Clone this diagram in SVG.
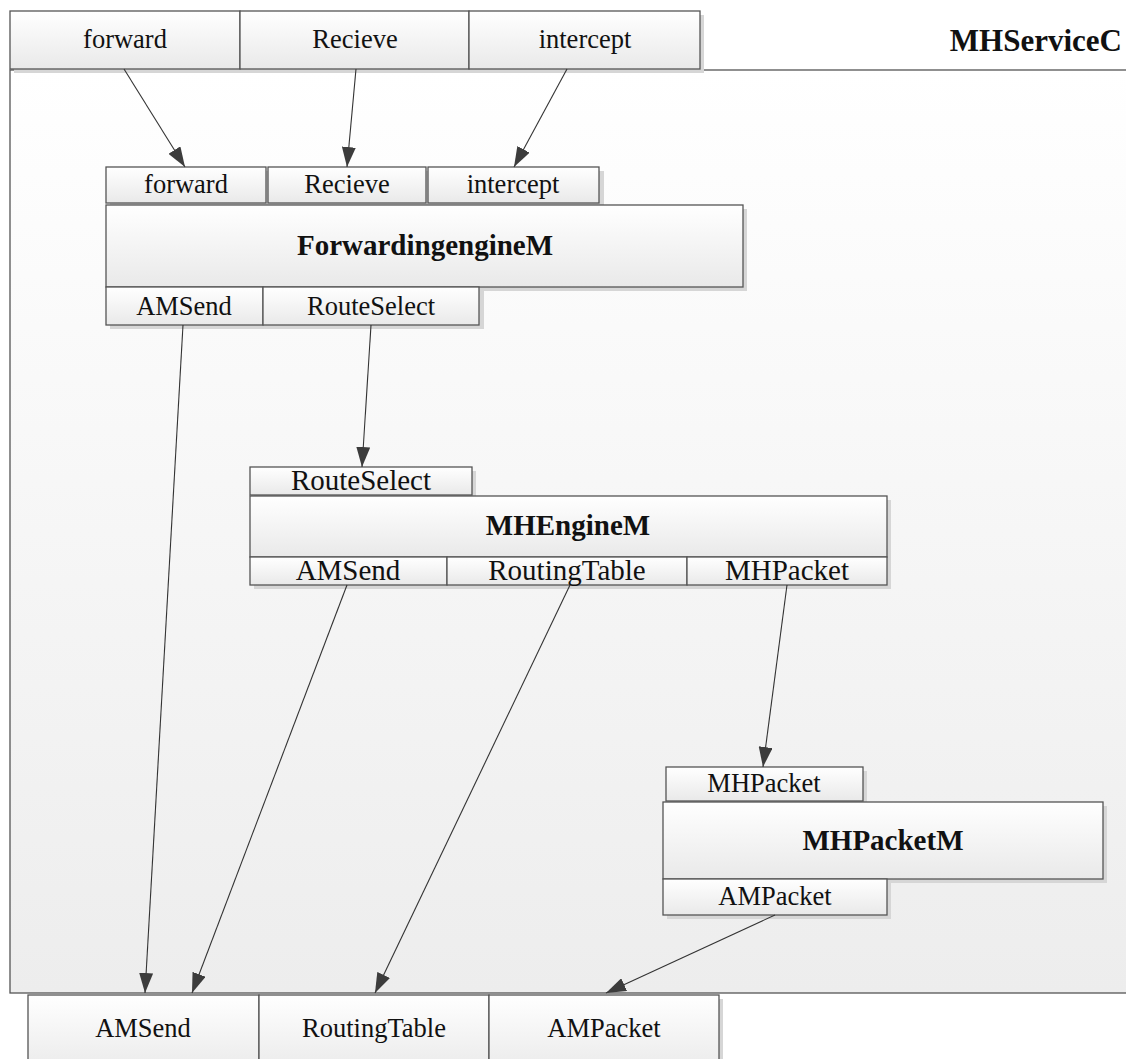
<svg xmlns="http://www.w3.org/2000/svg" width="1126" height="1059" viewBox="0 0 1126 1059">
  <style>
    .box { fill: url(#cell); stroke: #555; stroke-width: 1.3; }
    .sh { fill: #d6d6d6; }
    .lbl { font-family: "Liberation Serif", "Times New Roman", serif; font-size: 26.5px; fill: #111; text-anchor: middle; }
    .big { font-size: 29px; }
    .ttl { font-family: "Liberation Serif", "Times New Roman", serif; font-size: 29px; font-weight: bold; fill: #111; text-anchor: middle; }
    .wire { stroke: #333; stroke-width: 1.1; fill: none; marker-end: url(#head); }
  </style>
  <defs>
    <linearGradient id="cell" x1="0" y1="0" x2="0" y2="1">
      <stop offset="0" stop-color="#ffffff"/>
      <stop offset="1" stop-color="#e9e9e9"/>
    </linearGradient>
    <linearGradient id="bg" x1="0" y1="0" x2="0" y2="1">
      <stop offset="0" stop-color="#ffffff"/>
      <stop offset="1" stop-color="#ededed"/>
    </linearGradient>
    <marker id="head" markerUnits="userSpaceOnUse" markerWidth="21" markerHeight="14" refX="20" refY="7" orient="auto">
      <path d="M0,0 L20,7 L0,14 z" fill="#3c3c3c"/>
    </marker>
  </defs>

  <rect width="1126" height="1059" fill="#ffffff"/>

  <!-- composite configuration frame -->
  <g id="MHServiceC">
    <rect x="10" y="70" width="1130" height="923" fill="url(#bg)" stroke="#555" stroke-width="1.3"/>
    <text class="ttl" x="1122" y="51" style="text-anchor:end;font-size:31px">MHServiceC</text>
  </g>

  <!-- exported interfaces along the top -->
  <g id="top-interfaces">
    <rect class="sh" x="14" y="15" width="690" height="58"/>
    <rect class="box" x="10" y="11" width="230" height="58"/>
    <rect class="box" x="240" y="11" width="229" height="58"/>
    <rect class="box" x="469" y="11" width="231" height="58"/>
    <text class="lbl" x="125" y="48">forward</text>
    <text class="lbl" x="355" y="48">Recieve</text>
    <text class="lbl" x="585" y="48">intercept</text>
  </g>

  <g id="ForwardingengineM">
    <rect class="sh" x="110" y="171" width="494" height="36"/>
    <rect class="sh" x="110" y="209" width="637" height="82"/>
    <rect class="sh" x="110" y="291" width="374" height="38"/>
    <rect class="box" x="106" y="167" width="160" height="36"/>
    <rect class="box" x="268" y="167" width="158" height="36"/>
    <rect class="box" x="428" y="167" width="171" height="36"/>
    <rect class="box" x="106" y="205" width="637" height="82"/>
    <rect class="box" x="106" y="287" width="157" height="38"/>
    <rect class="box" x="263" y="287" width="216" height="38"/>
    <text class="lbl" x="186" y="193">forward</text>
    <text class="lbl" x="347" y="193">Recieve</text>
    <text class="lbl" x="513" y="193">intercept</text>
    <text class="ttl" x="425" y="255">ForwardingengineM</text>
    <text class="lbl" x="184" y="315">AMSend</text>
    <text class="lbl" x="371" y="315">RouteSelect</text>
  </g>

  <g id="MHEngineM">
    <rect class="sh" x="254" y="471" width="222" height="28"/>
    <rect class="sh" x="254" y="500" width="637" height="89"/>
    <rect class="box" x="250" y="467" width="222" height="28"/>
    <rect class="box" x="250" y="496" width="637" height="61"/>
    <rect class="box" x="250" y="557" width="197" height="28"/>
    <rect class="box" x="447" y="557" width="240" height="28"/>
    <rect class="box" x="687" y="557" width="200" height="28"/>
    <text class="lbl big" x="361" y="490">RouteSelect</text>
    <text class="ttl" x="568" y="535">MHEngineM</text>
    <text class="lbl big" x="348" y="580">AMSend</text>
    <text class="lbl big" x="567" y="580">RoutingTable</text>
    <text class="lbl big" x="787" y="580">MHPacket</text>
  </g>

  <g id="MHPacketM">
    <rect class="sh" x="670" y="771" width="197" height="34"/>
    <rect class="sh" x="667" y="806" width="440" height="77"/>
    <rect class="sh" x="667" y="883" width="224" height="36"/>
    <rect class="box" x="666" y="767" width="197" height="34"/>
    <rect class="box" x="663" y="802" width="440" height="77"/>
    <rect class="box" x="663" y="879" width="224" height="36"/>
    <text class="lbl" x="764" y="792">MHPacket</text>
    <text class="ttl" x="883" y="850">MHPacketM</text>
    <text class="lbl" x="775" y="905">AMPacket</text>
  </g>

  <!-- used interfaces along the bottom -->
  <g id="bottom-interfaces">
    <rect class="sh" x="32" y="999" width="691" height="70"/>
    <rect class="box" x="28" y="995" width="231" height="80"/>
    <rect class="box" x="259" y="995" width="230" height="80"/>
    <rect class="box" x="489" y="995" width="230" height="80"/>
    <text class="lbl" x="143" y="1037">AMSend</text>
    <text class="lbl" x="374" y="1037">RoutingTable</text>
    <text class="lbl" x="604" y="1037">AMPacket</text>
  </g>

  <g id="connectors">
    <line class="wire" x1="124" y1="69" x2="185" y2="167"/>
    <line class="wire" x1="356" y1="69" x2="347" y2="167"/>
    <line class="wire" x1="567" y1="69" x2="514" y2="167"/>
    <line class="wire" x1="183" y1="325" x2="145" y2="993"/>
    <line class="wire" x1="371" y1="325" x2="362" y2="467"/>
    <line class="wire" x1="347" y1="585" x2="192" y2="993"/>
    <line class="wire" x1="570" y1="585" x2="375" y2="993"/>
    <line class="wire" x1="787" y1="585" x2="763" y2="767"/>
    <line class="wire" x1="775" y1="915" x2="606" y2="993"/>
  </g>
</svg>
